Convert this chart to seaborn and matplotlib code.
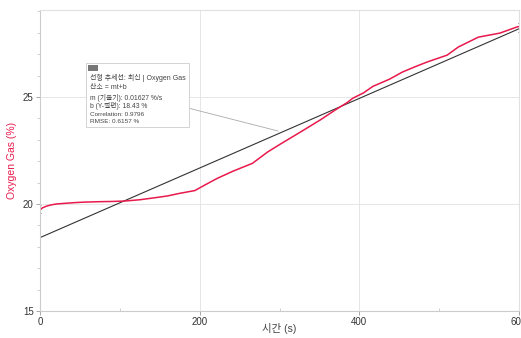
import matplotlib
matplotlib.use("Agg")
import matplotlib.pyplot as plt
import seaborn as sns
import numpy as np
import pandas as pd
from matplotlib.ticker import MultipleLocator

# ---- data ----
time_s = [0, 3, 8, 14, 20, 30, 45, 56, 75, 90, 106, 125, 145, 160, 175, 194,
          208, 222, 242, 266, 285, 301, 326, 351, 370, 385, 392, 405, 417,
          438, 454, 470, 485, 510, 524, 549, 576, 597, 600]
oxygen = [19.72, 19.82, 19.9, 19.96, 20.0, 20.03, 20.07, 20.09, 20.11, 20.12,
          20.14, 20.2, 20.3, 20.38, 20.5, 20.63, 20.92, 21.2, 21.54, 21.9,
          22.43, 22.8, 23.36, 23.93, 24.4, 24.75, 24.95, 25.19, 25.5, 25.84,
          26.17, 26.42, 26.64, 26.96, 27.34, 27.8, 27.99, 28.27, 28.3]
fit_slope = 0.01627
fit_intercept = 18.43
fit_x = [0, 600]
box_lines = ["선형 추세선: 최신 | Oxygen Gas", "산소 = mt+b",
             "m (기울기): 0.01627 %/s", "b (Y-절편): 18.43 %",
             "Correlation: 0.9796", "RMSE: 0.6157 %"]
x_ticks = [0, 200, 400, 600]
y_ticks = [15, 20, 25]

sns.set_theme(style="white")
plt.rcParams['font.family'] = ['Liberation Sans', 'Noto Sans CJK KR', 'DejaVu Sans']

fig = plt.figure(figsize=(5.21, 3.38), dpi=100)
ax = fig.add_axes([40/521, 1-311/338, 479/521, 301/338])

df = pd.DataFrame({"t": time_s, "o2": oxygen})
fit_df = pd.DataFrame({"t": fit_x, "fit": [fit_slope*v + fit_intercept for v in fit_x]})

red = "#e8194b"
sns.lineplot(data=fit_df, x="t", y="fit", ax=ax, color="#333333", linewidth=0.8)
sns.lineplot(data=df, x="t", y="o2", ax=ax, color=red, linewidth=1.1)

ax.set_xlim(0, 600)
ax.set_ylim(15, 29.07)
ax.set_xticks(x_ticks)
ax.set_yticks(y_ticks)
ax.xaxis.set_minor_locator(MultipleLocator(100))
ax.yaxis.set_minor_locator(MultipleLocator(1))
ax.grid(True, which="major", color="#e6e6e6", linewidth=0.7)
ax.tick_params(which="major", direction="out", length=3, width=0.6, color="#999999",
               labelsize=7, labelcolor="#333333", pad=1.5,
               bottom=True, left=True)
ax.tick_params(axis="x", which="minor", direction="in", length=2, width=0.5,
               color="#bbbbbb", bottom=True)
ax.tick_params(axis="y", which="minor", direction="out", length=2, width=0.5,
               color="#bbbbbb", left=True)
for s in ["top", "right"]:
    ax.spines[s].set_color("#e0e0e0")
    ax.spines[s].set_linewidth(0.8)
for s in ["left", "bottom"]:
    ax.spines[s].set_color("#cccccc")
    ax.spines[s].set_linewidth(0.8)

ax.set_xlabel("시간 (s)", fontsize=7.5, color="#444444", va="center")
ax.xaxis.set_label_coords(0.5, (311 - 329) / 301)
ax.set_ylabel("Oxygen Gas (%)", fontsize=7.5, color=red, labelpad=4)

# selection brackets
ax.plot([1.5, 0, 0, 1.5], [19.6, 19.6, 19.95, 19.95], color="#888888", lw=0.6, clip_on=False)
ax.plot([598.5, 600, 600, 598.5], [28.05, 28.05, 28.45, 28.45], color="#888888", lw=0.6, clip_on=False)

# annotation box
def fx(px): return (px - 40) / 479
def fy(py): return (311 - py) / 301

ax.plot([fx(188), fx(278)], [fy(108), fy(131)], transform=ax.transAxes,
        color="#aaaaaa", lw=0.6)
rect = plt.Rectangle((fx(86), fy(127)), fx(189)-fx(86), fy(63)-fy(127),
                     transform=ax.transAxes, facecolor="white", edgecolor="#cccccc",
                     lw=0.6, zorder=5)
ax.add_patch(rect)
hdr = plt.Rectangle((fx(88), fy(71)), fx(98)-fx(88), fy(65)-fy(71),
                    transform=ax.transAxes, facecolor="#777777", edgecolor="none", zorder=6)
ax.add_patch(hdr)
ys = [77.5, 87.5, 97.5, 106.5, 114.5, 121.5]
sizes = [5.0, 5.0, 4.9, 4.9, 4.6, 4.6]
for txt, py, fs in zip(box_lines, ys, sizes):
    ax.text(fx(90), fy(py), txt, transform=ax.transAxes, fontsize=fs,
            color="#444444", va="center", ha="left", zorder=7)

fig.savefig("out.png", dpi=100)
